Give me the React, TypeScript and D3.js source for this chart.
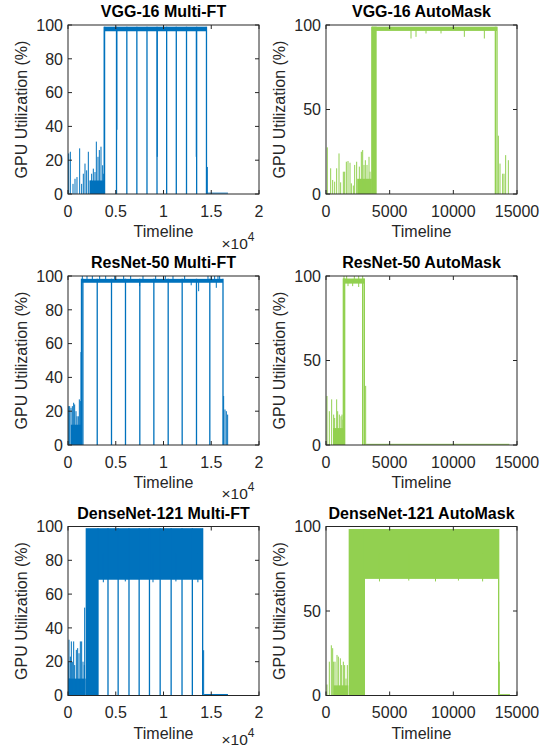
import * as d3 from "d3";

const BLUE = "#0072BD";
const GREEN = "#92D050";
const AXIS = "#262626";
const FONT = "'Liberation Sans', Arial, Helvetica, sans-serif";

// tick values / labels
const ftXTicks = [0, 5000, 10000, 15000, 20000];
const ftXLabels = ["0", "0.5", "1", "1.5", "2"];
const ftYTicks = [0, 20, 40, 60, 80, 100];
const amXTicks = [0, 5000, 10000, 15000];
const amXLabels = ["0", "5000", "10000", "15000"];
const amYTicks = [0, 50, 100];

// ---- VGG-16 Multi-FT  (spikes: [time, util])
const vggFtSpikes = [[70, 24], [244, 25], [524, 6], [733, 9], [942, 10], [1222, 27], [1431, 6], [1605, 12], [1780, 18], [1954, 14], [2129, 25], [2303, 8], [2478, 12], [2652, 15], [2827, 13], [2967, 31], [3141, 22], [3281, 26], [3455, 28], [3630, 17], [3734, 12], [14590, 16]];
const vggFtFills = [[2300, 3790, 0, 8]]; // [t0, t1, lo, hi]
const vggFtBand = [3790, 14500, 96.3, 99]; // [t0, t1, lo, hi]
const vggFtDrops = [3830, 5080, 6160, 7210, 8270, 9320, 10330, 11340, 12410, 13470];
const vggFtMarks: number[][] = [[5120, 38], [9350, 22], [13430, 22]];
const vggFtIdle = [14600, 16750, 0.5];

// ---- VGG-16 AutoMask
const vggAmSpikes = [[104, 27.6], [366, 15.2], [523, 8.3], [680, 7.3], [837, 15.2], [1021, 24], [1152, 6.9], [1361, 13.2], [1466, 13.2], [1597, 19.1], [1728, 19.5], [1885, 18.5], [1990, 6.3], [2147, 5], [2251, 17.2], [2408, 19.1], [2617, 16.2], [2775, 25], [2880, 26], [2984, 17.2], [3089, 20], [3220, 17.2], [3377, 22], [3456, 13.2], [13535, 34.5], [13665, 18], [13874, 12], [13979, 12], [14110, 23], [14319, 20]];
const vggAmFills = [[2450, 3600, 0, 9], [3600, 3980, 0, 99]];
const vggAmBand = [3600, 13430, 96.5, 99];
const vggAmDrops = [13300];
const vggAmMarks: number[][] = [[6676, 92], [7069, 93], [7854, 95], [9032, 95], [10865, 93], [12436, 92]];
const vggAmIdle: number[] = [];

// ---- ResNet-50 Multi-FT
const resFtSpikes = [[70, 23], [175, 23], [314, 22], [454, 23], [593, 25], [698, 24], [838, 20], [942, 17], [1082, 17], [1187, 27], [1291, 26], [1361, 55], [16298, 29], [16438, 21], [16578, 20], [16717, 18]];
const resFtFills = [[300, 1420, 0, 12]];
const resFtBand = [1410, 16230, 96, 98.3];
const resFtDrops = [1560, 3060, 4555, 6020, 7520, 8990, 10490, 11955, 13455, 14850];
const resFtMarks: number[][] = [[1500, 100], [1990, 100], [2548, 100], [3316, 100], [3944, 100], [4886, 100], [5828, 100], [6561, 100], [7852, 100], [9179, 100], [10191, 100], [10994, 100], [12215, 100], [14658, 100], [15007, 100], [15356, 100], [15705, 100], [15880, 100], [7503, 94], [12900, 94.5], [13680, 91], [15530, 93]];
const resFtIdle: number[] = [];

// ---- ResNet-50 AutoMask
const resAmSpikes = [[79, 29], [262, 20], [445, 27], [602, 18], [681, 16], [838, 27], [916, 20], [1047, 18], [1178, 17], [1257, 18], [1335, 15], [3115, 35]];
const resAmFills = [[550, 1400, 0, 10], [1361, 1518, 0, 98.5]];
const resAmBand = [1361, 3011, 95.5, 98.5];
const resAmDrops = [2880];
const resAmMarks: number[][] = [[1414, 100], [1623, 100], [2225, 100], [2566, 100], [2880, 100], [1728, 94], [2094, 94], [2566, 93.5]];
const resAmIdle = [3150, 14400, 0.4];

// ---- DenseNet-121 Multi-FT
const denFtSpikes = [[35, 20], [105, 33], [175, 10], [244, 23], [349, 32], [454, 20], [593, 32], [698, 18], [873, 27], [1012, 28], [1152, 25], [1291, 32], [1431, 32], [1571, 20], [1710, 18], [1745, 52], [14204, 26.8]];
const denFtFills = [[0, 1850, 0, 10], [1850, 3141, 0, 99]];
const denFtBand = [3141, 14100, 68.5, 99];
const denFtDrops = [4188, 5250, 6387, 7450, 8530, 9650, 10800, 11940, 13019];
const denFtMarks: number[][] = [[3700, 67], [6000, 67.5], [8900, 67], [11300, 67.5], [13600, 67]];
const denFtIdle = [14250, 16750, 0.6];

// ---- DenseNet-121 AutoMask
const denAmSpikes = [[79, 6.5], [262, 20], [419, 29.7], [524, 28], [602, 20], [707, 20], [864, 24], [969, 23], [1126, 22], [1230, 18], [1361, 20], [1466, 18], [1571, 10], [1676, 18], [13614, 20]];
const denAmFills = [[600, 1750, 0, 6], [1780, 3011, 0, 98.5]];
const denAmBand = [3011, 13561, 69, 98.5];
const denAmDrops: number[] = [];
const denAmMarks: number[][] = [[4200, 67.5], [6500, 68], [8600, 67.5], [10400, 68], [12300, 67.5]];
const denAmIdle = [13650, 14450, 0.5];

const panels = [
  { title: "VGG-16 Multi-FT", color: BLUE, xMax: 20000, xTicks: ftXTicks, xLabels: ftXLabels, yTicks: ftYTicks, exp: true, spikes: vggFtSpikes, fills: vggFtFills, band: vggFtBand, drops: vggFtDrops, marks: vggFtMarks, idle: vggFtIdle },
  { title: "VGG-16 AutoMask", color: GREEN, xMax: 15000, xTicks: amXTicks, xLabels: amXLabels, yTicks: amYTicks, exp: false, spikes: vggAmSpikes, fills: vggAmFills, band: vggAmBand, drops: vggAmDrops, marks: vggAmMarks, idle: vggAmIdle },
  { title: "ResNet-50 Multi-FT", color: BLUE, xMax: 20000, xTicks: ftXTicks, xLabels: ftXLabels, yTicks: ftYTicks, exp: true, spikes: resFtSpikes, fills: resFtFills, band: resFtBand, drops: resFtDrops, marks: resFtMarks, idle: resFtIdle },
  { title: "ResNet-50 AutoMask", color: GREEN, xMax: 15000, xTicks: amXTicks, xLabels: amXLabels, yTicks: amYTicks, exp: false, spikes: resAmSpikes, fills: resAmFills, band: resAmBand, drops: resAmDrops, marks: resAmMarks, idle: resAmIdle },
  { title: "DenseNet-121 Multi-FT", color: BLUE, xMax: 20000, xTicks: ftXTicks, xLabels: ftXLabels, yTicks: ftYTicks, exp: true, spikes: denFtSpikes, fills: denFtFills, band: denFtBand, drops: denFtDrops, marks: denFtMarks, idle: denFtIdle },
  { title: "DenseNet-121 AutoMask", color: GREEN, xMax: 15000, xTicks: amXTicks, xLabels: amXLabels, yTicks: amYTicks, exp: false, spikes: denAmSpikes, fills: denAmFills, band: denAmBand, drops: denAmDrops, marks: denAmMarks, idle: denAmIdle },
];

const colLeft = [68, 326];
const rowTop = [25, 276, 526.5];
const expOffset = [55, 54, 49]; // the bottom row's exponent sits a little higher
const W = 191;
const H = 169;
const TICK = 4;

const Panel = ({ p, x0, y0, id, expDy }: any) => {
  const x = d3.scaleLinear().domain([0, p.xMax]).range([x0, x0 + W]);
  const y = d3.scaleLinear().domain([0, 100]).range([y0 + H, y0]);
  const [b0, b1, lo, hi] = p.band;
  const mid = (lo + hi) / 2;

  const spikePath = p.spikes.map(([t, h]: number[]) => `M${x(t)},${y(0)}V${y(h)}`).join("");
  const dropPath = [b0, ...p.drops, b1].map((t: number) => `M${x(t)},${y(0)}V${y(hi)}`).join("");
  const markPath = p.marks.map(([t, v]: number[]) => `M${x(t)},${y(mid)}V${y(v)}`).join("");
  const idlePath = p.idle.length ? `M${x(p.idle[0])},${y(p.idle[2])}H${x(p.idle[1])}` : "";

  return (
    <g>
      <defs>
        <clipPath id={id}>
          <rect x={x0} y={y0} width={W} height={H} />
        </clipPath>
      </defs>
      <g clipPath={`url(#${id})`}>
        {p.fills.map(([t0, t1, a, b]: number[], i: number) => (
          <rect key={i} x={x(t0)} y={y(b)} width={x(t1) - x(t0)} height={y(a) - y(b)} fill={p.color} />
        ))}
        <rect x={x(b0)} y={y(hi)} width={x(b1) - x(b0)} height={y(lo) - y(hi)} fill={p.color} />
        <path d={spikePath} stroke={p.color} strokeWidth={1} fill="none" />
        <path d={dropPath} stroke={p.color} strokeWidth={1.3} fill="none" />
        <path d={markPath} stroke={p.color} strokeWidth={1} fill="none" />
        {idlePath && <path d={idlePath} stroke={p.color} strokeWidth={1} fill="none" />}
      </g>

      {/* axes box */}
      <rect x={x0} y={y0} width={W} height={H} fill="none" stroke={AXIS} strokeWidth={1} />
      {p.yTicks.map((v: number) => (
        <g key={"y" + v}>
          <path d={`M${x0},${y(v)}h${TICK}M${x0 + W},${y(v)}h${-TICK}`} stroke={AXIS} strokeWidth={1} />
          <text x={x0 - 5} y={y(v)} dy="0.36em" textAnchor="end" fontSize={16} fill={AXIS} fontFamily={FONT}>{v}</text>
        </g>
      ))}
      {p.xTicks.map((v: number, i: number) => (
        <g key={"x" + v}>
          <path d={`M${x(v)},${y0 + H}v${-TICK}M${x(v)},${y0}v${TICK}`} stroke={AXIS} strokeWidth={1} />
          <text x={x(v)} y={y0 + H + 22.5} textAnchor="middle" fontSize={16} fill={AXIS} fontFamily={FONT}>{p.xLabels[i]}</text>
        </g>
      ))}
      <text x={x0 + W / 2} y={y0 + H + 43} textAnchor="middle" fontSize={16} fill={AXIS} fontFamily={FONT}>Timeline</text>
      {p.exp && (
        <text x={x0 + W - 37.5} y={y0 + H + expDy} fontSize={15.5} fill={AXIS} fontFamily={FONT}>
          ×10<tspan dy={-8} fontSize={12}>4</tspan>
        </text>
      )}
      <text transform={`translate(${x0 - 41},${y0 + H / 2}) rotate(-90)`} textAnchor="middle" fontSize={16} fill={AXIS} fontFamily={FONT}>GPU Utilization (%)</text>
      <text x={x0 + W / 2} y={y0 - 8} textAnchor="middle" fontSize={16} fontWeight="bold" fill="#000" fontFamily={FONT}>{p.title}</text>
    </g>
  );
};

export default function App() {
  return (
    <svg width={547} height={748} style={{ position: "absolute", left: 0, top: 0, background: "#fff" }}>
      <rect width={547} height={748} fill="#fff" />
      {panels.map((p, i) => (
        <Panel key={p.title} p={p} x0={colLeft[i % 2]} y0={rowTop[Math.floor(i / 2)]} id={"clip" + i} expDy={expOffset[Math.floor(i / 2)]} />
      ))}
    </svg>
  );
}
